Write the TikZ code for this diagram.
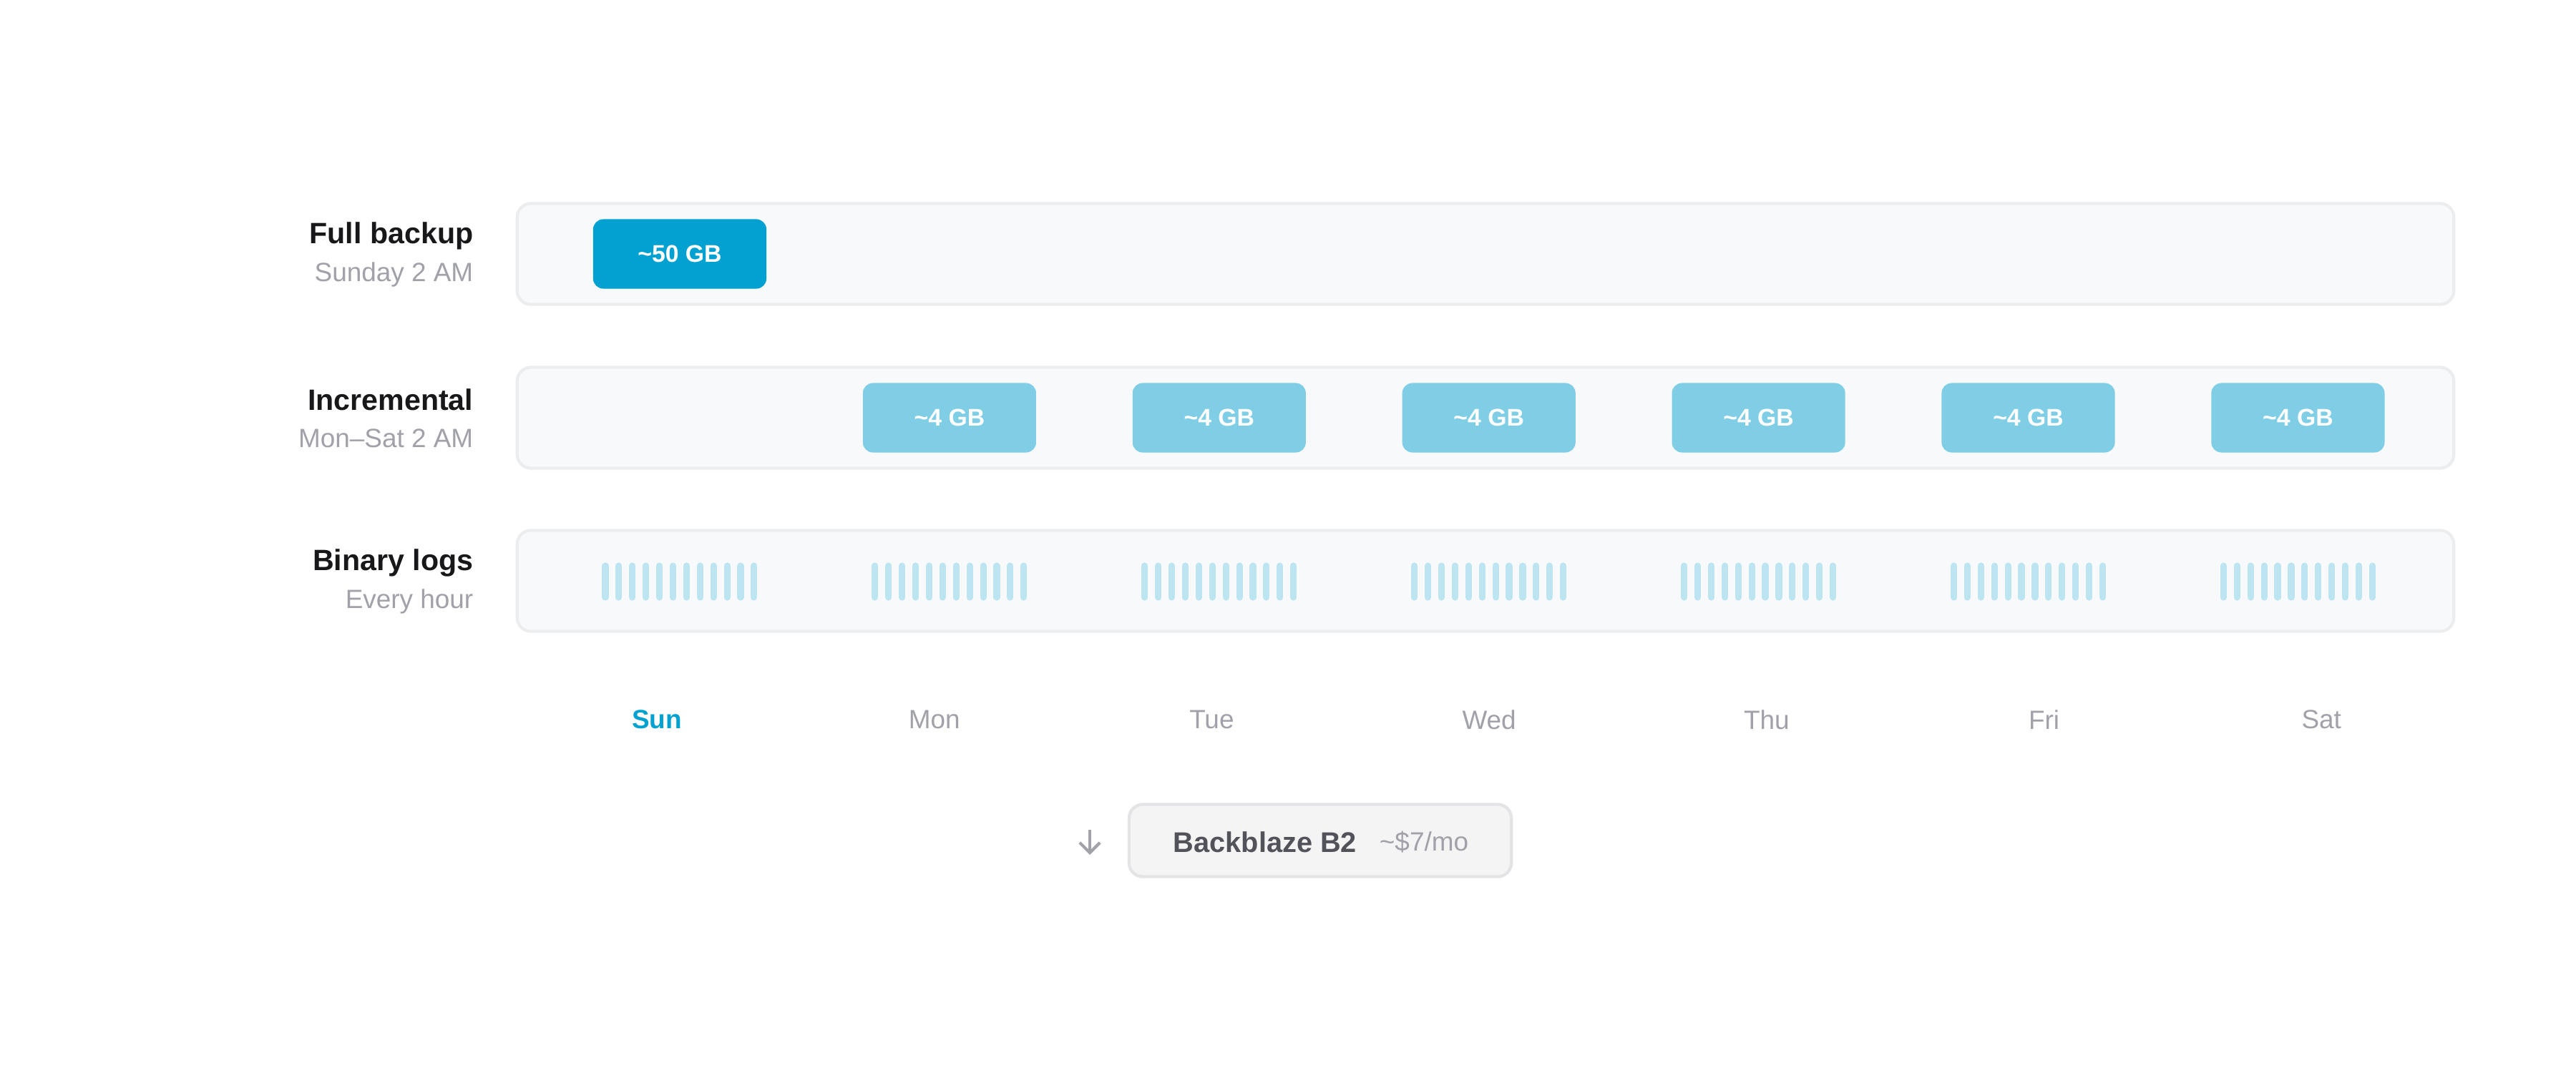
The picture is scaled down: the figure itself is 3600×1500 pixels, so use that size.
\documentclass[tikz,border=0pt]{standalone}
\usepackage{fontspec}
\setmainfont{Liberation Sans}
\usetikzlibrary{arrows.meta}
\definecolor{rowfill}{RGB}{248,249,250}
\definecolor{rowline}{RGB}{236,237,239}
\definecolor{fullblue}{RGB}{2,161,209}
\definecolor{incblue}{RGB}{127,206,230}
\definecolor{logblue}{RGB}{188,228,241}
\definecolor{titlegray}{RGB}{24,24,27}
\definecolor{subgray}{RGB}{161,161,170}
\definecolor{b2fill}{RGB}{244,244,245}
\definecolor{b2line}{RGB}{228,228,231}
\definecolor{b2text}{RGB}{82,82,91}
\tikzstyle{lane} = [draw=rowline,fill=rowfill,line width=1.2pt,rounded corners=5.5pt,minimum width=270.5mm,minimum height=14.1mm,inner sep=0pt]
\tikzstyle{title} = [anchor=east,text=titlegray,font=\fontsize{11.7}{13}\selectfont\bfseries,inner sep=0pt]
\tikzstyle{subtitle} = [anchor=east,text=subgray,font=\fontsize{10.5}{12}\selectfont,inner sep=0pt]
\tikzstyle{block} = [rounded corners=4pt,minimum width=24.2mm,minimum height=9.7mm,inner sep=0pt,text=white,font=\fontsize{9.6}{11}\selectfont\bfseries]
\tikzstyle{tick} = [draw=logblue,line width=2.6pt,line cap=round]
\tikzstyle{day} = [text=subgray,font=\fontsize{10.5}{12}\selectfont]

\begin{document}
\begin{tikzpicture}[x=0.01cm,y=-0.01cm]
	\useasboundingbox[fill=white] (0,0) rectangle (3600,1500);

	% lanes
	\node[lane] (full) at (2076,355) {};
	\node[lane] (inc) at (2076,584) {};
	\node[lane] (logs) at (2076,812) {};

	\node[title] (fulltitle) at (662,330) {Full backup};
	\node[subtitle] (fullsub) at (662,384) {Sunday 2 AM};
	\node[title] (inctitle) at (662,559) {Incremental};
	\node[subtitle] (incsub) at (662,613) {Mon–Sat 2 AM};
	\node[title] (logtitle) at (662,787) {Binary logs};
	\node[subtitle] (logsub) at (662,841) {Every hour};

	% sunday full backup
	\node[block,fill=fullblue] (gb0) at (950,355) {\textasciitilde50 GB};

	% incrementals
	\foreach \k in {1,...,6}
		\node[block,fill=incblue] (gb\k) at (950+376.9*\k,584) {\textasciitilde4 GB};

	% hourly logs
	\foreach \k in {0,...,6}
		\foreach \i in {0,...,11}
			\draw[tick] (950+376.9*\k+18.9*\i-104,791) -- (950+376.9*\k+18.9*\i-104,835);

	% day labels
	\node[day,text=fullblue,font=\fontsize{10.5}{12}\selectfont\bfseries] (sun) at (918,1006) {Sun};
	\foreach \name/\k in {Mon/1,Tue/2,Wed/3,Thu/4,Fri/5,Sat/6}
		\node[day] (\name) at (918+387.7*\k,1006) {\name};

	% offsite target
	\node[draw=b2line,fill=b2fill,line width=1.2pt,rounded corners=5.5pt,minimum width=53.4mm,minimum height=10.1mm,inner sep=0pt] (b2) at (1845,1175) {};
	\node[text=b2text,font=\fontsize{11.3}{13}\selectfont\bfseries] (b2name) at (1768,1177) {Backblaze B2};
	\node[text=subgray,font=\fontsize{10.5}{12}\selectfont] (b2cost) at (1990,1177) {\textasciitilde\$7/mo};
	\coordinate (arrtop) at (1523,1160);
	\coordinate (arrbot) at (1523,1195);
	\draw[subgray,line width=1.2pt,-{Straight Barb[length=4pt,width=8pt]}] (arrtop) -- (arrbot);
\end{tikzpicture}
\end{document}
